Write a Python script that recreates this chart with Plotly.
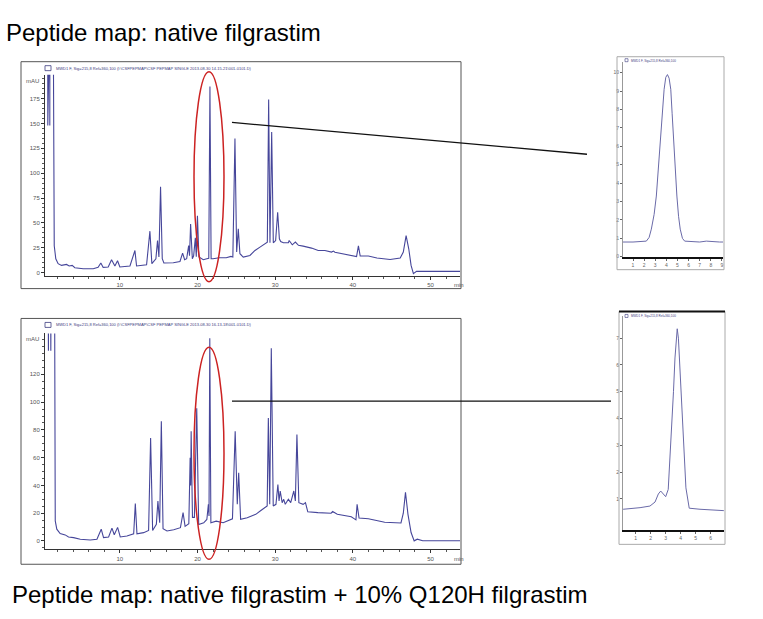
import plotly.graph_objects as go

W, H = 763, 619

# ---------------- data ----------------
top_title = "Peptide map: native filgrastim"
bottom_title = "Peptide map: native filgrastim + 10% Q120H filgrastim"
top_legend = "MWD1 F, Sig=215,8 Ref=360,100 (I:\\CSFPEPMAP\\CSF PEPMAP SINGLE 2013-08-30 14-15-21\\001-0101.D)"
bottom_legend = "MWD1 F, Sig=215,8 Ref=360,100 (I:\\CSFPEPMAP\\CSF PEPMAP SINGLE 2013-08-30 16-13-18\\001-0101.D)"
inset_legend = "MWD1 F, Sig=215,8 Ref=360,100"

# native filgrastim chromatogram (time, min / absorbance, mAU)
top_time = [0.45, 0.71, 0.72, 0.73, 0.97, 0.98, 0.99, 1.42, 1.5, 1.55, 1.75, 2.05, 2.49, 3.13, 3.47,
            3.86, 4.2, 5.28, 6.57, 7.2, 7.55, 7.85, 8.5, 8.93, 9.36, 9.7, 10.0, 11.3, 11.94, 12.15,
            13.44, 13.87, 14.12, 14.64, 14.85, 15.03, 15.24, 15.46, 15.67, 16.88, 17.74, 18.08, 18.34,
            18.6, 18.86, 18.97, 19.11, 19.33, 19.5, 19.72, 19.84, 19.99, 20.18, 20.74, 21.2, 21.45,
            21.6, 21.75, 22.0, 22.8, 23.7, 24.3, 24.55, 24.82, 25.04, 25.25, 25.46, 25.89, 26.75,
            27.4, 28.04, 28.69, 28.99, 29.16, 29.33, 29.55, 29.76, 30.06, 30.32, 30.54, 30.71, 31.05,
            31.7, 31.8, 32.2, 32.6, 33.0, 33.6, 34.68, 35.54, 36.4, 37.26, 37.5, 37.69, 38.55, 39.84,
            40.48, 40.72, 40.95, 42.0, 43.1, 44.8, 46.1, 46.5, 46.86, 47.2, 47.5, 47.8, 48.2, 53.8]
top_mau = [260, 260, 148, 260, 260, 148, 260, 260, 40, 27, 14, 9, 7.3, 8.3, 6.7,
           7.3, 5, 4, 4, 5.3, 9.7, 5.3, 5.7, 13, 6.7, 12, 5.7, 6.7, 22.3, 6.7,
           8, 41.7, 9, 14, 32.3, 15.7, 86.3, 14, 9.7, 10, 11.3, 19.7, 13,
           14, 27.3, 17, 49, 14, 17, 35, 16, 57.3, 15.7, 13, 14, 14.5,
           187, 14, 14, 15, 15, 16.3, 15.7, 134.7, 20.7, 44, 19, 15.7, 17.3,
           22.3, 25.7, 29, 30.7, 174, 30, 141.3, 30, 32.3, 60.7, 34, 31.3, 30,
           30, 32.3, 28, 30.7, 27.5, 26.7, 24.7, 22.3, 22.3, 20.7, 21.7, 20.5, 19, 17.3,
           16.2, 27, 16.7, 16.7, 14.7, 13.3, 14.7, 20.7, 37.3, 24, 7.3, -1, 1.3, 1.3]

# native + 10% Q120H chromatogram
bottom_time = [0.5, 0.78, 0.8, 0.82, 1.09, 1.11, 1.13, 1.6, 1.68, 1.88, 2.31, 2.96, 3.39, 4.04, 4.9,
               6.19, 7.05, 7.6, 7.9, 8.55, 8.98, 9.28, 9.71, 10.05, 10.91, 11.78, 11.99, 12.2, 13.06,
               13.7, 13.96, 14.22, 14.7, 14.9, 15.13, 15.34, 15.56, 16.07, 16.93, 17.8, 18.14, 18.4,
               18.88, 19.05, 19.12, 19.18, 19.35, 19.6, 19.9, 20.15, 20.8, 21.2, 21.4, 21.48, 21.58,
               21.72, 22.4, 23.3, 24.1, 24.5, 24.85, 25.12, 25.3, 25.55, 26.4, 27.1, 27.5, 28.2, 28.6,
               28.97, 29.12, 29.3, 29.5, 29.75, 30.1, 30.35, 30.5, 30.65, 30.9, 31.1, 31.3, 31.7, 32.0,
               32.4, 32.6, 32.8, 33.05, 33.6, 33.9, 34.2, 35.5, 37.2, 37.4, 38.0, 39.8, 40.4, 40.55,
               40.8, 42.0, 42.4, 44.1, 46.2, 46.5, 46.78, 47.1, 47.5, 47.9, 48.3, 49.0, 53.8]
bottom_mau = [170, 170, 137, 170, 170, 137, 170, 170, 14.5, 8.5, 5.4, 4.4, 2.9, 2.4, 1.2,
              0.7, 1.2, 8.5, 2.4, 2.9, 9.3, 4.5, 9.8, 2.9, 3.6, 5.2, 26.9, 5.2, 6,
              7.6, 74.2, 7.6, 12, 28.8, 13.1, 86.2, 8.8, 7.2, 8.1, 9.6, 20.4, 10.5,
              12.4, 59.9, 40, 79, 17, 17, 95.5, 11.9, 13.1, 15.5, 26.4, 18, 146,
              13.1, 14.3, 13.1, 15, 16, 79, 26.4, 49.1, 15.6, 16.8, 18, 19.2, 22.1, 24,
              25.2, 88.5, 26.4, 138.7, 25.2, 26.4, 40.7, 28.8, 36, 27.6, 30, 26.4, 30, 27.6,
              36, 28.8, 76.6, 27.6, 26.4, 27.6, 21, 20.4, 20, 21.2, 19.2, 17.4, 15.2, 26.4,
              16.5, 16, 15.6, 13.5, 13, 20, 35, 19.2, 6.1, 0.1, 1.3, 0.2, 0.2]

# zoomed peak, native
inset_top_x = [0.1, 1.0, 2.2, 2.45, 2.65, 2.9, 3.1, 3.3, 3.5, 3.65, 3.8, 3.95, 4.1, 4.25, 4.4, 4.52,
               4.65, 4.8, 4.95, 5.1, 5.25, 5.45, 5.65, 7.0, 7.6, 8.8, 9.1]
inset_top_y = [0.8, 0.8, 0.85, 1.05, 1.5, 2.3, 3.3, 5.0, 6.75, 8.0, 9.1, 9.75, 9.9, 9.7, 9.1, 7.8,
               6.2, 4.7, 3.3, 2.2, 1.5, 1.0, 0.85, 0.8, 0.85, 0.8, 0.8]

# zoomed peak, native + 10% Q120H
inset_bot_x = [0.15, 0.17, 1.29, 1.95, 2.29, 2.51, 2.67, 2.84, 3.0, 3.17, 3.4, 3.52, 3.62, 3.7, 3.77,
               3.85, 3.95, 4.17, 4.35, 4.57, 5.29, 6.84, 6.89]
inset_bot_y = [0.61, 0.61, 0.67, 0.73, 0.88, 1.18, 1.29, 1.18, 1.08, 1.35, 3.54, 5.0, 6.26, 7.0, 7.35,
               7.0, 5.9, 3.3, 1.41, 0.65, 0.61, 0.56, 0.56]

main_xticks = [10, 20, 30, 40, 50]
top_yticks = [0, 25, 50, 75, 100, 125, 150, 175]
bottom_yticks = [0, 20, 40, 60, 80, 100, 120]
inset_top_xticks = [1, 2, 3, 4, 5, 6, 7, 8, 9]
inset_top_yticks = [0, 1, 2, 3, 4, 5, 6, 7, 8, 9, 10]
inset_bot_xticks = [1, 2, 3, 4, 5, 6]
inset_bot_yticks = [1, 2, 3, 4, 5, 6, 7]

# ---------------- helpers for pixel placement ----------------
def fx(px):
    return px / W

def fy(py):
    return 1 - py / H

TRACE = "#46469a"
TICKF = dict(family="Liberation Sans, Arial, sans-serif", size=6, color="#555555")
SMALLF = dict(family="Liberation Sans, Arial, sans-serif", size=4, color="#3c3c80")

fig = go.Figure()
fig.add_trace(go.Scatter(x=top_time, y=top_mau, mode="lines", line=dict(color=TRACE, width=1.1),
                         xaxis="x", yaxis="y", showlegend=False, hoverinfo="skip"))
fig.add_trace(go.Scatter(x=bottom_time, y=bottom_mau, mode="lines", line=dict(color=TRACE, width=1.1),
                         xaxis="x2", yaxis="y2", showlegend=False, hoverinfo="skip"))
fig.add_trace(go.Scatter(x=inset_top_x, y=inset_top_y, mode="lines", line=dict(color="#6a6aa8", width=1),
                         xaxis="x3", yaxis="y3", showlegend=False, hoverinfo="skip"))
fig.add_trace(go.Scatter(x=inset_bot_x, y=inset_bot_y, mode="lines", line=dict(color="#6a6aa8", width=1),
                         xaxis="x4", yaxis="y4", showlegend=False, hoverinfo="skip"))

def main_x(anchor):
    return dict(domain=[fx(45), fx(460)], anchor=anchor, range=[0.36, 53.8], showgrid=False,
                zeroline=False, showline=True, linecolor="#333333", linewidth=1,
                ticks="outside", ticklen=3, tickcolor="#333333", tickvals=main_xticks,
                tickfont=TICKF, minor=dict(dtick=2, tick0=0, ticks="outside", ticklen=2, tickcolor="#555555"))

def main_y(anchor, dom, rng, vals, minor):
    return dict(domain=dom, anchor=anchor, range=rng, showgrid=False, zeroline=False,
                showline=True, linecolor="#333333", linewidth=1, ticks="outside", ticklen=3,
                tickcolor="#333333", tickvals=vals, tickfont=TICKF,
                minor=dict(dtick=minor, tick0=0, ticks="outside", ticklen=2, tickcolor="#555555"))

def inset_axis(anchor, dom, rng, vals, lw, lc):
    return dict(domain=dom, anchor=anchor, range=rng, showgrid=False, zeroline=False,
                showline=True, linecolor=lc, linewidth=lw, ticks="outside", ticklen=2,
                tickcolor="#666666", tickvals=vals,
                tickfont=dict(family="Liberation Sans, Arial, sans-serif", size=5, color="#666666"))

fig.update_layout(
    width=W, height=H, margin=dict(l=0, r=0, t=0, b=0),
    paper_bgcolor="white", plot_bgcolor="white", showlegend=False,
    xaxis=main_x("y"),
    yaxis=main_y("x", [fy(277), fy(75)], [-3, 199], top_yticks, 5),
    xaxis2=main_x("y2"),
    yaxis2=main_y("x2", [fy(552), fy(335)], [-6, 149.5], bottom_yticks, 5),
    xaxis3=inset_axis("y3", [fx(623), fx(723)], [0.1, 9.1], inset_top_xticks, 1.6, "#111111"),
    yaxis3=inset_axis("x3", [fy(258), fy(62)], [0, 10.6], inset_top_yticks, 1, "#999999"),
    xaxis4=inset_axis("y4", [fx(623), fx(724)], [0.153, 6.89], inset_bot_xticks, 1.6, "#111111"),
    yaxis4=inset_axis("x4", [fy(533), fy(318)], [-0.18, 7.81], inset_bot_yticks, 1, "#999999"),
)

shapes = []
def rect(x0, y0, x1, y1, color, width):
    shapes.append(dict(type="rect", xref="paper", yref="paper", x0=fx(x0), x1=fx(x1),
                       y0=fy(y1), y1=fy(y0), line=dict(color=color, width=width)))

def seg(x0, y0, x1, y1, color, width):
    shapes.append(dict(type="line", xref="paper", yref="paper", x0=fx(x0), x1=fx(x1),
                       y0=fy(y0), y1=fy(y1), line=dict(color=color, width=width)))

# panel frames
rect(21, 62, 461, 290, "#555555", 1)
rect(21, 320, 461, 567, "#555555", 1)
rect(617, 57, 724, 271, "#aaaaaa", 1)
rect(619, 313, 725, 547, "#aaaaaa", 1)
seg(619, 313, 725, 313, "#111111", 2)
# legend icons
rect(45, 66, 51, 71, "#3c3c80", 0.8)
rect(45, 324, 51, 329, "#3c3c80", 0.8)
rect(625, 59, 628, 62, "#3c3c80", 0.6)
rect(625, 316, 628, 319, "#3c3c80", 0.6)
# red ellipses
for (y0, y1) in [(72, 283), (349, 562)]:
    shapes.append(dict(type="circle", xref="paper", yref="paper", x0=fx(194), x1=fx(224),
                       y0=fy(y1), y1=fy(y0), line=dict(color="#cc2222", width=1.5)))
# connector lines
seg(232, 123, 587, 155, "#111111", 1.3)
seg(232, 403, 611, 403, "#111111", 1.3)
fig.update_layout(shapes=shapes)

ann = []
def text(s, px, py, font, xanchor="left", yanchor="middle"):
    ann.append(dict(text=s, x=fx(px), y=fy(py), xref="paper", yref="paper", showarrow=False,
                    xanchor=xanchor, yanchor=yanchor, font=font))

TITLEF = dict(family="Liberation Sans, Arial, sans-serif", size=24, color="#000000")
text(top_title, 4, 33, TITLEF)
text(bottom_title, 10, 597, TITLEF)
text(top_legend, 54, 68.5, SMALLF)
text(bottom_legend, 54, 326.5, SMALLF)
text(inset_legend, 629, 61, dict(family="Liberation Sans, Arial, sans-serif", size=3, color="#3c3c80"))
text(inset_legend, 629, 318, dict(family="Liberation Sans, Arial, sans-serif", size=3, color="#3c3c80"))
text("mAU", 41, 81, TICKF, xanchor="right")
text("mAU", 41, 341, TICKF, xanchor="right")
text("min", 452, 286, TICKF)
text("min", 452, 562, TICKF)
fig.update_layout(annotations=ann)

fig.write_html("out.html", config={"displayModeBar": False},
               post_script="document.body.style.margin='0px';")
